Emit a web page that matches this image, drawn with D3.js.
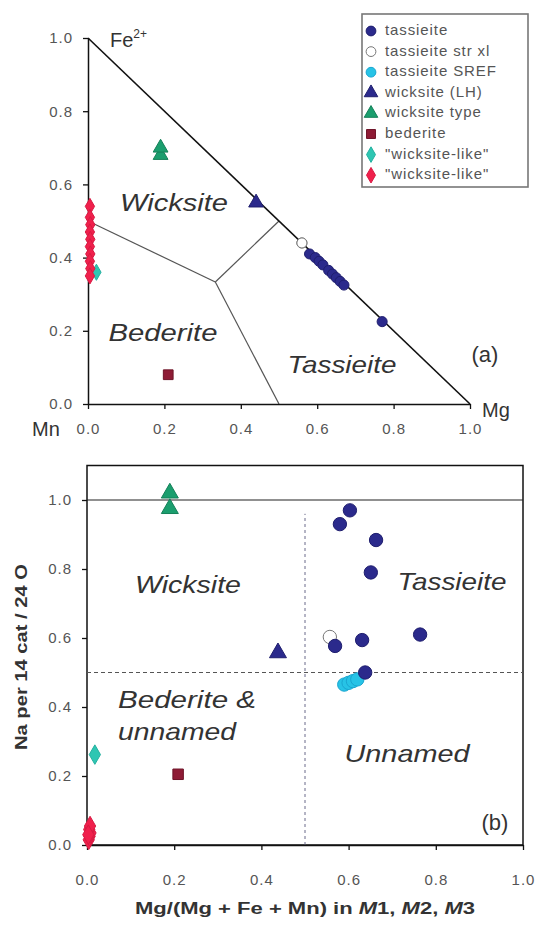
<!DOCTYPE html>
<html><head><meta charset="utf-8">
<script src="https://cdn.jsdelivr.net/npm/d3@7"></script>
<style>
body{margin:0;background:#fff}
svg{display:block}
text{font-family:"Liberation Sans",Arial,Helvetica,sans-serif}
</style>
</head><body>
<svg id="c" width="539" height="928"></svg>
<script>
// ---------------- DATA ----------------
const tickValues = [0, 0.2, 0.4, 0.6, 0.8, 1.0];
const tickValuesB_Y = [0, 0.2, 0.4, 0.6, 0.8, 1.0];
const legendLabels = ["tassieite", "tassieite str xl", "tassieite SREF", "wicksite (LH)", "wicksite type", "bederite", "\"wicksite-like\"", "\"wicksite-like\""];
const seriesKeys = ["tas", "strxl", "sref", "lh", "type", "bed", "wlc", "wlr"];

// Panel (a): ternary-like plot, x = Mg, y = Fe2+
const fieldBoundaries = [
  [[0, 0.5], [1/3, 1/3]],
  [[1/3, 1/3], [0.5, 0.5]],
  [[1/3, 1/3], [0.5, 0]]
];
const a_tas = [[0.58,0.41],[0.595,0.40],[0.605,0.39],[0.615,0.38],[0.63,0.365],[0.64,0.355],[0.65,0.345],[0.66,0.335],[0.67,0.325],[0.77,0.225]];
const a_strxl = [[0.56,0.44]];
const a_sref = [];
const a_lh = [[0.44,0.55]];
const a_type = [[0.19,0.68],[0.19,0.70]];
const a_bed = [[0.21,0.08]];
const a_wlc = [[0.022,0.36]];
const a_wlr = [[0.005,0.54],[0.005,0.51],[0.006,0.49],[0.005,0.47],[0.006,0.45],[0.005,0.43],[0.006,0.41],[0.005,0.39],[0.006,0.37],[0.005,0.35]];

// Panel (b): Na vs Mg/(Mg+Fe+Mn)
const b_tas = [[0.603,0.97],[0.58,0.93],[0.663,0.884],[0.651,0.79],[0.764,0.61],[0.631,0.594],[0.569,0.577],[0.638,0.50]];
const b_strxl = [[0.557,0.603]];
const b_sref = [[0.59,0.465],[0.60,0.47],[0.61,0.475],[0.62,0.48]];
const b_lh = [[0.438,0.557]];
const b_type = [[0.19,1.02],[0.19,0.975]];
const b_bed = [[0.209,0.205]];
const b_wlc = [[0.018,0.262]];
const b_wlr = [[0.004,0.015],[0.006,0.025],[0.008,0.035],[0.005,0.045],[0.007,0.055],[0.003,0.03]];

const refLinesB = {solidY: 1.0, dashedY: 0.5, dashedX: 0.5, dashedXTop: 0.96};

// ---------------- STYLES ----------------
const style = {
  tas:   {shape: d3.symbolCircle,   fill: "#2b2a8c", stroke: "#1f1e6e"},
  strxl: {shape: d3.symbolCircle,   fill: "#ffffff", stroke: "#777777"},
  sref:  {shape: d3.symbolCircle,   fill: "#27c3e6", stroke: "#1aa6d0"},
  lh:    {shape: d3.symbolTriangle, fill: "#2b2a8c", stroke: "#1f1e6e"},
  type:  {shape: d3.symbolTriangle, fill: "#1b9e6e", stroke: "#158059"},
  bed:   {shape: d3.symbolSquare,   fill: "#8e1b35", stroke: "#6e1428"},
  wlc:   {shape: d3.symbolDiamond,  fill: "#2ec6b2", stroke: "#25b0a0"},
  wlr:   {shape: d3.symbolDiamond,  fill: "#f0204c", stroke: "#d81a42"}
};
const sizeA = {circle: 80, tri: 95, sq: 95, dia: 75};
const sizeB = {circle: 140, tri: 125, sq: 110, dia: 110};
function symSize(shape, s){
  if (shape === d3.symbolCircle) return s.circle;
  if (shape === d3.symbolTriangle) return s.tri;
  if (shape === d3.symbolSquare) return s.sq;
  return s.dia;
}

const svg = d3.select("#c");
const tickFmt = d3.format(".1f");

function styleAxis(g){
  g.select(".domain").attr("stroke", "#111").attr("stroke-width", 1.5);
  g.selectAll(".tick line").attr("stroke", "#111").attr("stroke-width", 1.3);
  g.selectAll(".tick text").attr("fill", "#555").style("font-size", "15px")
    .style("letter-spacing", "1px").style("font-family", '"Liberation Sans", Arial, sans-serif');
}

function drawPoints(g, x, y, dataByKey, sizes){
  seriesKeys.forEach(k => {
    const st = style[k];
    const sz = symSize(st.shape, sizes);
    g.selectAll(null).data(dataByKey[k]).join("path")
      .attr("transform", d => `translate(${x(d[0])},${y(d[1])})`)
      .attr("d", d3.symbol().type(st.shape).size(sz)())
      .attr("fill", st.fill).attr("stroke", st.stroke).attr("stroke-width", 1);
  });
}

// ---------------- PANEL A ----------------
const xA = d3.scaleLinear([0, 1], [88, 470]);
const yA = d3.scaleLinear([0, 1], [404, 38]);
const gA = svg.append("g");

gA.selectAll(null).data(fieldBoundaries).join("line")
  .attr("x1", d => xA(d[0][0])).attr("y1", d => yA(d[0][1]))
  .attr("x2", d => xA(d[1][0])).attr("y2", d => yA(d[1][1]))
  .attr("stroke", "#555").attr("stroke-width", 1.2);

gA.append("line").attr("x1", xA(0)).attr("y1", yA(1)).attr("x2", xA(1)).attr("y2", yA(0))
  .attr("stroke", "#111").attr("stroke-width", 1.6);

const axA_L = gA.append("g").attr("transform", `translate(${xA(0)},0)`)
  .call(d3.axisLeft(yA).tickValues(tickValues).tickSize(5).tickSizeOuter(0).tickPadding(10).tickFormat(tickFmt));
styleAxis(axA_L);
const axA_B = gA.append("g").attr("transform", `translate(0,${yA(0)})`)
  .call(d3.axisBottom(xA).tickValues(tickValues).tickSize(5).tickSizeOuter(0).tickPadding(14).tickFormat(tickFmt));
styleAxis(axA_B);

function regionLabel(g, txt, cx, cy, len, size){
  g.append("text").attr("x", cx).attr("y", cy).attr("text-anchor", "middle")
    .attr("dominant-baseline", "middle")
    .style("font-style", "italic").style("font-size", (size||24) + "px").attr("fill", "#333")
    .attr("textLength", len).attr("lengthAdjust", "spacingAndGlyphs").text(txt);
}
regionLabel(gA, "Wicksite", 174, 205, 108);
regionLabel(gA, "Bederite", 163, 335, 109);
regionLabel(gA, "Tassieite", 342, 367, 109);
gA.append("text").attr("x", 485).attr("y", 356).attr("text-anchor", "middle").attr("dominant-baseline", "middle")
  .style("font-size", "22px").attr("fill", "#333").text("(a)");

const fe = gA.append("text").attr("x", 110).attr("y", 47).style("font-size", "20px").attr("fill", "#333");
fe.append("tspan").text("Fe");
fe.append("tspan").attr("dy", -9).style("font-size", "12px").text("2+");
gA.append("text").attr("x", 482).attr("y", 417).style("font-size", "20px").attr("fill", "#333").text("Mg");
gA.append("text").attr("x", 32).attr("y", 436).style("font-size", "20px").attr("fill", "#333").text("Mn");

drawPoints(gA, xA, yA, {tas: a_tas, strxl: a_strxl, sref: a_sref, lh: a_lh, type: a_type, bed: a_bed, wlc: a_wlc, wlr: a_wlr}, sizeA);
gA.selectAll(null).data(a_strxl).join("path")
  .attr("transform", d => `translate(${xA(d[0])},${yA(d[1])})`)
  .attr("d", d3.symbol().type(d3.symbolCircle).size(sizeA.circle)())
  .attr("fill", style.strxl.fill).attr("stroke", style.strxl.stroke);

// legend
const lg = svg.append("g");
lg.append("rect").attr("x", 362).attr("y", 14).attr("width", 166).attr("height", 173)
  .attr("fill", "#fff").attr("stroke", "#777").attr("stroke-width", 1.6);
legendLabels.forEach((lab, i) => {
  const k = seriesKeys[i];
  const st = style[k];
  const yy = 31 + i * 20.6;
  lg.append("path").attr("transform", `translate(371,${yy})`)
    .attr("d", d3.symbol().type(st.shape).size(symSize(st.shape, {circle: 75, tri: 80, sq: 80, dia: 70}))())
    .attr("fill", st.fill).attr("stroke", st.stroke);
  lg.append("text").attr("x", 385).attr("y", yy).attr("dominant-baseline", "middle")
    .style("font-size", "15px").style("letter-spacing", "0.9px").attr("fill", "#555").text(lab);
});

// ---------------- PANEL B ----------------
const xB = d3.scaleLinear([0, 1], [87, 523]);
const yB = d3.scaleLinear([0, 1.1], [845, 465.5]);
const gB = svg.append("g");

gB.append("rect").attr("x", xB(0)).attr("y", yB(1.1)).attr("width", xB(1) - xB(0)).attr("height", yB(0) - yB(1.1))
  .attr("fill", "none").attr("stroke", "#111").attr("stroke-width", 1.5);

gB.append("line").attr("x1", xB(0)).attr("x2", xB(1)).attr("y1", yB(refLinesB.solidY)).attr("y2", yB(refLinesB.solidY))
  .attr("stroke", "#222").attr("stroke-width", 1.2);
gB.append("line").attr("x1", xB(0)).attr("x2", xB(1)).attr("y1", yB(refLinesB.dashedY)).attr("y2", yB(refLinesB.dashedY))
  .attr("stroke", "#555").attr("stroke-width", 1).attr("stroke-dasharray", "4,3");
gB.append("line").attr("x1", xB(refLinesB.dashedX)).attr("x2", xB(refLinesB.dashedX)).attr("y1", yB(0)).attr("y2", yB(refLinesB.dashedXTop))
  .attr("stroke", "#6a6a8a").attr("stroke-width", 1).attr("stroke-dasharray", "3,3");

const axB_L = gB.append("g").attr("transform", `translate(${xB(0)},0)`)
  .call(d3.axisLeft(yB).tickValues(tickValuesB_Y).tickSize(5).tickSizeOuter(0).tickPadding(10).tickFormat(tickFmt));
styleAxis(axB_L);
axB_L.select(".domain").remove();
const axB_B = gB.append("g").attr("transform", `translate(0,${yB(0)})`)
  .call(d3.axisBottom(xB).tickValues(tickValues).tickSize(5).tickSizeOuter(0).tickPadding(24).tickFormat(tickFmt));
styleAxis(axB_B);

regionLabel(gB, "Wicksite", 188, 587, 106);
regionLabel(gB, "Tassieite", 452, 584, 109);
gB.append("text").attr("x", 118).attr("y", 702).attr("dominant-baseline", "middle")
  .style("font-style", "italic").style("font-size", "24px").attr("fill", "#333")
  .attr("textLength", 138).attr("lengthAdjust", "spacingAndGlyphs").text("Bederite &");
gB.append("text").attr("x", 118).attr("y", 734).attr("dominant-baseline", "middle")
  .style("font-style", "italic").style("font-size", "24px").attr("fill", "#333")
  .attr("textLength", 118).attr("lengthAdjust", "spacingAndGlyphs").text("unnamed");
regionLabel(gB, "Unnamed", 407, 756, 125);
gB.append("text").attr("x", 495).attr("y", 824).attr("text-anchor", "middle").attr("dominant-baseline", "middle")
  .style("font-size", "22px").attr("fill", "#333").text("(b)");

drawPoints(gB, xB, yB, {tas: [], strxl: b_strxl, sref: b_sref, lh: b_lh, type: b_type, bed: b_bed, wlc: b_wlc, wlr: b_wlr}, sizeB);
gB.selectAll(null).data(b_tas).join("path")
  .attr("transform", d => `translate(${xB(d[0])},${yB(d[1])})`)
  .attr("d", d3.symbol().type(style.tas.shape).size(sizeB.circle)())
  .attr("fill", style.tas.fill).attr("stroke", style.tas.stroke);

const xt = svg.append("text").attr("x", 305).attr("y", 910).attr("text-anchor", "middle").attr("dominant-baseline", "middle")
  .style("font-size", "16px").style("font-weight", "bold").attr("fill", "#333")
  .attr("textLength", 340).attr("lengthAdjust", "spacingAndGlyphs");
xt.append("tspan").text("Mg/(Mg + Fe + Mn) in ");
xt.append("tspan").style("font-style", "italic").text("M");
xt.append("tspan").text("1, ");
xt.append("tspan").style("font-style", "italic").text("M");
xt.append("tspan").text("2, ");
xt.append("tspan").style("font-style", "italic").text("M");
xt.append("tspan").text("3");

svg.append("text").attr("transform", "translate(23,657) rotate(-90)").attr("text-anchor", "middle").attr("dominant-baseline", "middle")
  .style("font-size", "16px").style("font-weight", "bold").attr("fill", "#333")
  .attr("textLength", 186).attr("lengthAdjust", "spacingAndGlyphs").text("Na per 14 cat / 24 O");
</script>
</body></html>
